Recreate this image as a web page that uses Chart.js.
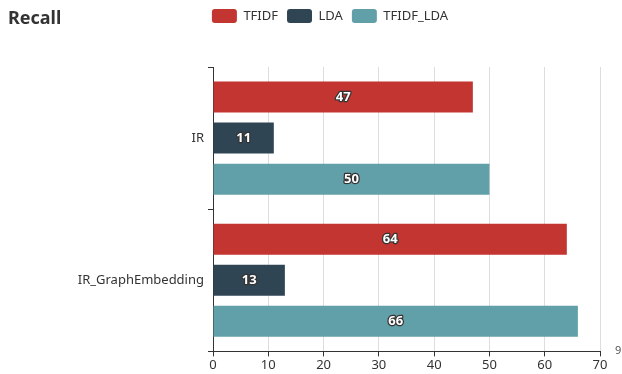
<!DOCTYPE html>
<html>
<head>
<meta charset="utf-8">
<script src="https://cdn.jsdelivr.net/npm/chart.js@4.4.0/dist/chart.umd.min.js"></script>
<style>
  body { margin: 0; background: #fff; }
  #wrap { width: 622px; height: 374px; }
</style>
</head>
<body>
<div id="wrap"><canvas id="recall-chart"></canvas></div>
<script>
// Chart data
const categories = ['IR', 'IR_GraphEmbedding'];
const seriesNames = ['TFIDF', 'LDA', 'TFIDF_LDA'];
const tfidfValues = [47, 64];
const ldaValues = [11, 13];
const tfidfLdaValues = [50, 66];
const xTicks = [0, 10, 20, 30, 40, 50, 60, 70];

const colors = ['#c23531', '#2f4554', '#61a0a8'];
const fontFamily = '"Noto Sans", "Open Sans", sans-serif';

// Push the plot area down below the legend row
const legendGap = {
    id: 'legendGap',
    beforeInit(chart) {
        const origFit = chart.legend.fit;
        chart.legend.fit = function () {
            origFit.bind(chart.legend)();
            this.height += 34;
        };
    }
};

// Title in top-left corner and the stray "9" at the end of the x axis
const extraText = {
    id: 'extraText',
    afterDraw(chart) {
        const ctx = chart.ctx;
        ctx.save();
        ctx.fillStyle = '#333';
        ctx.font = 'bold 18px ' + fontFamily;
        ctx.textBaseline = 'alphabetic';
        ctx.textAlign = 'left';
        ctx.fillText('Recall', 8, 24);
        ctx.fillStyle = '#555';
        ctx.font = '11px ' + fontFamily;
        ctx.fillText('9', chart.chartArea.right + 15, chart.chartArea.bottom + 3);
        ctx.restore();
    }
};

// Value labels in the middle of every bar
const barLabels = {
    id: 'barLabels',
    afterDatasetsDraw(chart) {
        const ctx = chart.ctx;
        ctx.save();
        ctx.font = 'bold 13px ' + fontFamily;
        ctx.textAlign = 'center';
        ctx.textBaseline = 'middle';
        ctx.lineJoin = 'round';
        chart.data.datasets.forEach(function (ds, i) {
            chart.getDatasetMeta(i).data.forEach(function (bar, j) {
                const cx = (bar.x + bar.base) / 2;
                const text = String(ds.data[j]);
                ctx.lineWidth = 2.5;
                ctx.strokeStyle = '#333';
                ctx.strokeText(text, cx, bar.y);
                ctx.fillStyle = '#fff';
                ctx.fillText(text, cx, bar.y);
            });
        });
        ctx.restore();
    }
};

const ctx = document.getElementById('recall-chart').getContext('2d');
new Chart(ctx, {
    type: 'bar',
    data: {
        labels: categories,
        datasets: [
            { label: seriesNames[0], data: tfidfValues, backgroundColor: colors[0] },
            { label: seriesNames[1], data: ldaValues, backgroundColor: colors[1] },
            { label: seriesNames[2], data: tfidfLdaValues, backgroundColor: colors[2] }
        ]
    },
    options: {
        indexAxis: 'y',
        responsive: true,
        maintainAspectRatio: false,
        animation: false,
        categoryPercentage: 0.866,
        barPercentage: 0.756,
        layout: { padding: { left: 60, right: 22, top: 0, bottom: 0 } },
        plugins: {
            title: { display: false },
            tooltip: { enabled: false },
            legend: {
                position: 'top',
                labels: {
                    color: '#333',
                    font: { family: fontFamily, size: 13 },
                    boxWidth: 25,
                    boxHeight: 14,
                    padding: 9,
                    useBorderRadius: true,
                    borderRadius: 3
                }
            }
        },
        scales: {
            x: {
                min: 0,
                max: 70,
                afterBuildTicks(scale) {
                    scale.ticks = xTicks.map(function (v) { return { value: v }; });
                },
                ticks: { color: '#333', font: { family: fontFamily, size: 13 }, padding: 1, maxRotation: 0 },
                grid: { color: '#ddd', tickColor: '#333', tickLength: 5 },
                border: { color: '#333' }
            },
            y: {
                afterFit(scale) { scale.width = 153; },
                ticks: { color: '#333', font: { family: fontFamily, size: 13 }, padding: 4 },
                grid: { offset: true, drawOnChartArea: false, color: '#333', tickLength: 5 },
                border: { color: '#333' }
            }
        }
    },
    plugins: [legendGap, extraText, barLabels]
});
</script>
</body>
</html>
